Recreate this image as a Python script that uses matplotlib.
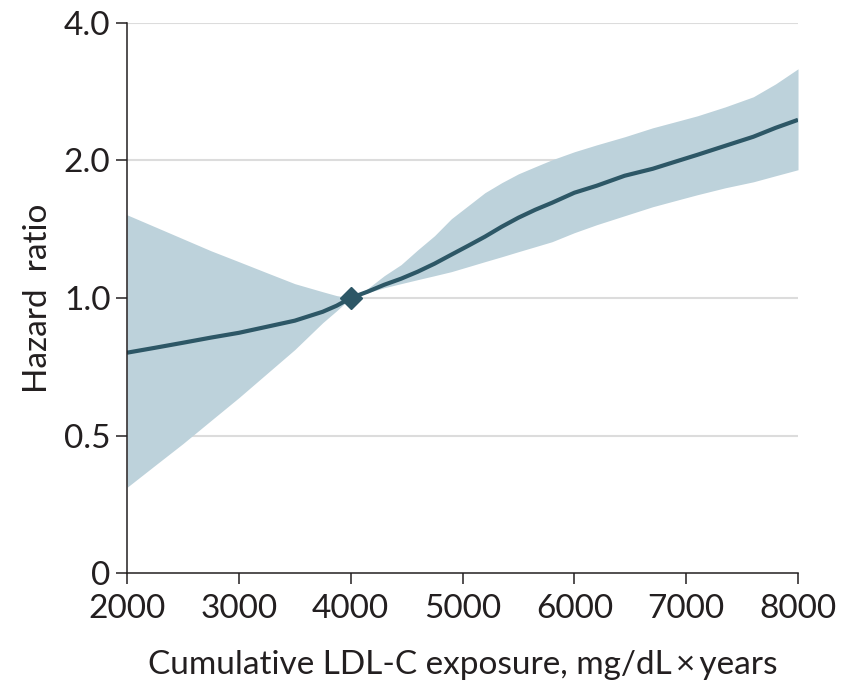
import matplotlib.pyplot as plt
from matplotlib.ticker import FixedLocator, NullLocator

plt.rcParams['font.family'] = ['Lato', 'DejaVu Sans']

# cumulative LDL-C exposure, mg/dL x years
exposure = [2000, 2250, 2500, 2750, 3000, 3250, 3500, 3750, 3875, 4000,
            4150, 4300, 4450, 4600, 4750, 4900, 5050, 5200, 5350, 5500,
            5650, 5800, 6000, 6200, 6450, 6700, 6900, 7100, 7350, 7600,
            7800, 8000]
# hazard ratio estimate and 95% CI
hr = [0.759, 0.778, 0.798, 0.819, 0.839, 0.865, 0.892, 0.933, 0.962, 1.0,
      1.032, 1.069, 1.102, 1.142, 1.189, 1.244, 1.301, 1.362, 1.432, 1.499,
      1.560, 1.616, 1.700, 1.761, 1.852, 1.918, 1.987, 2.058, 2.154, 2.254,
      2.358, 2.455]
hr_upper = [1.521, 1.432, 1.348, 1.269, 1.201, 1.136, 1.075, 1.032, 1.012, 1.0,
            1.048, 1.119, 1.183, 1.275, 1.369, 1.491, 1.592, 1.700, 1.788, 1.870,
            1.938, 2.007, 2.090, 2.164, 2.254, 2.358, 2.430, 2.505, 2.621, 2.757,
            2.943, 3.175]
hr_lower = [0.385, 0.430, 0.480, 0.539, 0.605, 0.683, 0.771, 0.883, 0.938, 1.0,
            1.027, 1.053, 1.075, 1.097, 1.119, 1.142, 1.171, 1.201, 1.231, 1.263,
            1.295, 1.328, 1.390, 1.447, 1.514, 1.584, 1.633, 1.683, 1.743, 1.796,
            1.852, 1.909]

ref_x, ref_hr = 4000, 1.0

x_ticks = [2000, 3000, 4000, 5000, 6000, 7000, 8000]
y_ticks = [0.25, 0.5, 1.0, 2.0, 4.0]
y_tick_labels = ['0', '0.5', '1.0', '2.0', '4.0']

line_color = '#2d5766'
band_color = '#bdd2db'
text_color = '#231f20'

fig = plt.figure(figsize=(8.45, 6.86), dpi=100)
ax = fig.add_axes([0.1503, 0.1647, 0.7941, 0.8018])

ax.set_yscale('log', base=2)
ax.set_xlim(2000, 8000)
ax.set_ylim(0.25, 4.0)

for y in y_ticks[1:]:
    ax.axhline(y, color='#dcdcdc', linewidth=1.5, zorder=0)

ax.fill_between(exposure, hr_lower, hr_upper, color=band_color, linewidth=0, zorder=1)
ax.plot(exposure, hr, color=line_color, linewidth=3, solid_capstyle='butt', zorder=2)
ax.plot([ref_x], [ref_hr], marker='D', markersize=11, color=line_color, zorder=3)

ax.yaxis.set_major_locator(FixedLocator(y_ticks))
ax.yaxis.set_minor_locator(NullLocator())
ax.set_yticklabels(y_tick_labels)
ax.set_xticks(x_ticks)
ax.set_xticklabels([str(t) for t in x_ticks])

for side in ['top', 'right']:
    ax.spines[side].set_visible(False)
for side in ['left', 'bottom']:
    ax.spines[side].set_color(text_color)
    ax.spines[side].set_linewidth(1.1)

ax.tick_params(axis='both', direction='out', length=8, width=1.1, color=text_color,
               labelcolor=text_color, labelsize=24)
ax.tick_params(axis='y', pad=4)
ax.tick_params(axis='x', pad=7)

ax.set_xlabel('Cumulative LDL-C exposure, mg/dL\u2009\u00d7\u2009years', fontsize=24,
              color=text_color, labelpad=19)
ax.set_ylabel('Hazard  ratio', fontsize=24, color=text_color, labelpad=8)

fig.savefig('out.png', dpi=100)
